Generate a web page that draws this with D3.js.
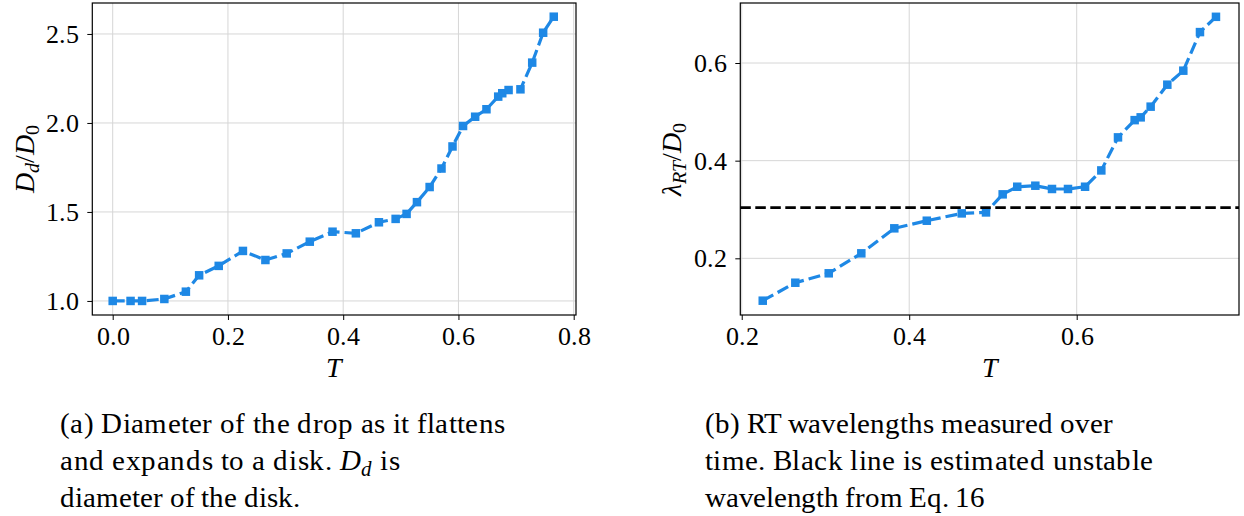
<!DOCTYPE html>
<html>
<head>
<meta charset="utf-8">
<script src="https://cdn.jsdelivr.net/npm/d3@7"></script>
<style>
  @font-face { font-family: "FigSerif"; src: local("Liberation Serif"), local("LiberationSerif"), local("LiberationSerif-Regular"); font-style: normal; font-weight: 400; }
  @font-face { font-family: "FigSerif"; src: local("Liberation Serif Italic"), local("LiberationSerif-Italic"); font-style: italic; font-weight: 400; }
</style>
</head>
<body style="margin:0">
<svg id="fig" width="1244" height="516"></svg>
<script>
// (a) disk diameter over time
const timeA = [0, 0.031, 0.051, 0.0896, 0.127, 0.150, 0.184, 0.226, 0.265, 0.302,
  0.342, 0.3815, 0.422, 0.462, 0.491, 0.510, 0.528, 0.550, 0.5706, 0.5897,
  0.608, 0.629, 0.6486, 0.669, 0.676, 0.687, 0.7076, 0.728, 0.747, 0.7654];
const diskDiameter = [1.0, 1.0, 1.0, 1.011, 1.052, 1.144, 1.197, 1.281, 1.230, 1.267,
  1.333, 1.389, 1.380, 1.442, 1.461, 1.489, 1.555, 1.640, 1.744, 1.868,
  1.983, 2.035, 2.077, 2.148, 2.167, 2.185, 2.189, 2.339, 2.507, 2.597];
const xTicksA = [0.0, 0.2, 0.4, 0.6, 0.8];
const yTicksA = [1.0, 1.5, 2.0, 2.5];

// (b) RT wavelength over time
const timeB = [0.2251, 0.264, 0.3039, 0.3428, 0.3822, 0.421, 0.4627, 0.4917, 0.5116, 0.529,
  0.5506, 0.5705, 0.5896, 0.61, 0.6294, 0.6493, 0.6692, 0.6764, 0.6883, 0.7082,
  0.7273, 0.7472, 0.7663];
const rtWavelength = [0.1132, 0.150, 0.1693, 0.2102, 0.2614, 0.277, 0.292, 0.294, 0.331, 0.3466,
  0.3487, 0.342, 0.342, 0.3466, 0.380, 0.4477, 0.483, 0.4887, 0.5106, 0.5556,
  0.5843, 0.6633, 0.6946];
const unstableWavelength = 0.304;
const xTicksB = [0.2, 0.4, 0.6];
const yTicksB = [0.2, 0.4, 0.6];

const BLUE = "#1E88E5";
const svg = d3.select("#fig");

// serif face for every text element
function serif(sel) {
  return sel.style("font-family", '"FigSerif", "Liberation Serif", "Times New Roman"');
}

function panel(cfg) {
  const x = d3.scaleLinear().domain(cfg.xDomain).range([cfg.left, cfg.right]);
  const y = d3.scaleLinear().domain(cfg.yDomain).range([cfg.bottom, cfg.top]);
  const g = svg.append("g");

  // grid
  g.append("g").selectAll("line").data(cfg.xTicks).join("line")
    .attr("x1", d => x(d)).attr("x2", d => x(d))
    .attr("y1", cfg.top).attr("y2", cfg.bottom)
    .attr("stroke", "#d6d6d6").attr("stroke-width", 1);
  g.append("g").selectAll("line").data(cfg.yTicks).join("line")
    .attr("x1", cfg.left).attr("x2", cfg.right)
    .attr("y1", d => y(d)).attr("y2", d => y(d))
    .attr("stroke", "#d6d6d6").attr("stroke-width", 1);

  // axes
  const xAxis = d3.axisBottom(x).tickValues(cfg.xTicks).tickFormat(d3.format(".1f"))
    .tickSizeInner(5).tickSizeOuter(0).tickPadding(7);
  const yAxis = d3.axisLeft(y).tickValues(cfg.yTicks).tickFormat(d3.format(".1f"))
    .tickSizeInner(5).tickSizeOuter(0).tickPadding(8);
  const gx = g.append("g").attr("transform", `translate(0,${cfg.bottom})`).call(xAxis);
  const gy = g.append("g").attr("transform", `translate(${cfg.left},0)`).call(yAxis);
  [gx, gy].forEach(a => {
    a.attr("font-family", null).attr("font-size", null);
    a.select(".domain").remove();
    a.selectAll(".tick line").attr("stroke", "#000").attr("stroke-width", 1);
    serif(a.selectAll(".tick text").attr("font-size", 26).attr("fill", "#000"));
  });
  gx.selectAll(".tick text").attr("dy", "0.71em");
  gy.selectAll(".tick text").attr("dy", "0.33em");

  // data line with square markers
  const line = d3.line().x(d => x(d[0])).y(d => y(d[1]));
  const pts = cfg.xs.map((t, i) => [t, cfg.ys[i]]);
  g.append("path").datum(pts).attr("d", line)
    .attr("fill", "none").attr("stroke", BLUE).attr("stroke-width", 3.2)
    .attr("stroke-dasharray", "12,5");
  const m = 8.5;
  g.append("g").selectAll("rect").data(pts).join("rect")
    .attr("x", d => x(d[0]) - m / 2).attr("y", d => y(d[1]) - m / 2)
    .attr("width", m).attr("height", m).attr("fill", BLUE);

  if (cfg.hline !== undefined) {
    g.append("line")
      .attr("x1", cfg.left).attr("x2", cfg.right)
      .attr("y1", y(cfg.hline)).attr("y2", y(cfg.hline))
      .attr("stroke", "#000").attr("stroke-width", 2.7)
      .attr("stroke-dasharray", "10.5,4.5");
  }

  // frame
  g.append("rect").attr("x", cfg.left).attr("y", cfg.top)
    .attr("width", cfg.right - cfg.left).attr("height", cfg.bottom - cfg.top)
    .attr("fill", "none").attr("stroke", "#000").attr("stroke-width", 1.2);

  // x label
  serif(g.append("text")).attr("x", (cfg.left + cfg.right) / 2).attr("y", 377)
    .attr("text-anchor", "middle").attr("font-size", 28).attr("font-style", "italic")
    .text("T");

  // y label
  const yl = serif(g.append("text"))
    .attr("transform", `translate(${cfg.ylabelX},${(cfg.top + cfg.bottom) / 2}) rotate(-90)`)
    .attr("text-anchor", "middle").attr("font-size", 28);
  cfg.ylabel(yl);
  return { x, y };
}

panel({
  left: 92.3, right: 576, top: 3, bottom: 315,
  xDomain: [-0.0354, 0.804], yDomain: [0.921, 2.674],
  xTicks: xTicksA, yTicks: yTicksA, xs: timeA, ys: diskDiameter,
  ylabelX: 34,
  ylabel: t => {
    t.append("tspan").attr("font-style", "italic").text("D");
    t.append("tspan").attr("font-style", "italic").attr("font-size", 20).attr("dy", 5).text("d");
    t.append("tspan").attr("dy", -5).text("/");
    t.append("tspan").attr("font-style", "italic").text("D");
    t.append("tspan").attr("font-size", 20).attr("dy", 5).text("0");
  }
});

panel({
  left: 740.3, right: 1239, top: 3, bottom: 315,
  xDomain: [0.1983, 0.7938], yDomain: [0.0839, 0.7229],
  xTicks: xTicksB, yTicks: yTicksB, xs: timeB, ys: rtWavelength,
  hline: unstableWavelength,
  ylabelX: 681,
  ylabel: t => {
    t.append("tspan").attr("font-style", "italic").text("λ");
    t.append("tspan").attr("font-style", "italic").attr("font-size", 20).attr("dy", 5).text("RT");
    t.append("tspan").attr("dy", -5).text("/");
    t.append("tspan").attr("font-style", "italic").text("D");
    t.append("tspan").attr("font-size", 20).attr("dy", 5).text("0");
  }
});

// captions
const capA = [
  { parts: [["(a) Diameter of the drop as it flattens"]], w: 445 },
  { parts: [["and expands to a disk. "], ["D", "i"], ["d", "sub"], [" is"]], w: 340 },
  { parts: [["diameter of the disk."]], w: 240 }
];
const capB = [
  { parts: [["(b) RT wavelengths measured over"]], w: 408 },
  { parts: [["time. Black line is estimated unstable"]], w: 448 },
  { parts: [["wavelength from Eq. 16"]], w: 280 }
];
const baselines = [433, 470, 506.5];
function caption(lines, x0) {
  lines.forEach((ln, i) => {
    const t = serif(svg.append("text")).attr("x", x0).attr("y", baselines[i])
      .attr("font-size", 29)
      .attr("textLength", ln.w).attr("lengthAdjust", "spacing");
    let shifted = false;
    ln.parts.forEach(p => {
      const s = t.append("tspan").text(p[0]);
      if (p[1] === "i") s.attr("font-style", "italic");
      if (p[1] === "sub") { s.attr("font-style", "italic").attr("font-size", 21).attr("dy", 6); shifted = true; }
      else if (shifted) { s.attr("dy", -6); shifted = false; }
    });
  });
}
caption(capA, 60);
caption(capB, 705);
</script>
</body>
</html>
